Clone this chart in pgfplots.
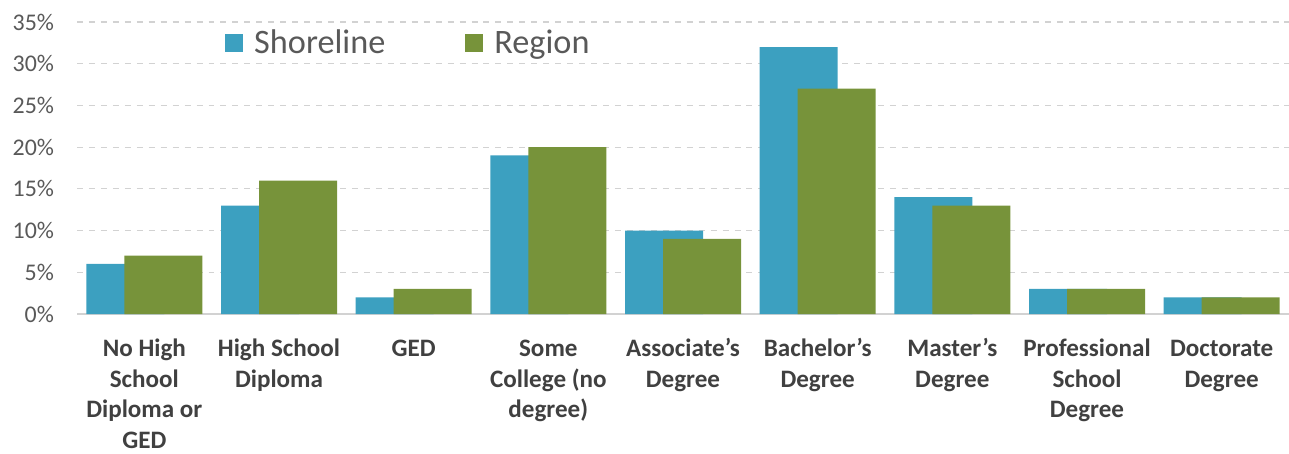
\documentclass[border=0pt]{standalone}
\usepackage{pgfplots}
\pgfplotsset{compat=1.18}
\usepackage{fontspec}
\setmainfont{Carlito}
\definecolor{teal1}{RGB}{60,160,192}
\definecolor{green1}{RGB}{119,147,58}
\definecolor{ticktxt}{RGB}{89,89,89}
\definecolor{cattxt}{RGB}{64,64,64}
\begin{document}
\begin{tikzpicture}
\begin{axis}[
  scale only axis,
  width=606bp, height=146bp,
  xmin=-0.5, xmax=8.5,
  ymin=0, ymax=35,
  xtick=data,
  xticklabels={{\strut No High\\School\\Diploma or\\GED},{\strut High School\\Diploma},{\strut GED},{\strut Some\\College (no\\degree)},{\strut Associate's\\Degree},{\strut Bachelor's\\Degree},{\strut Master's\\Degree},{\strut Professional\\School\\Degree},{\strut Doctorate\\Degree}},
  xticklabel style={align=center, anchor=north, font=\fontsize{12.6}{15.5}\selectfont\bfseries, text=cattxt, yshift=-2.5bp},
  ytick={5,10,...,35},
  extra y ticks={0},
  extra y tick style={grid style={solid, color=gray!35, line width=0.8pt}},
  yticklabel={\pgfmathprintnumber{\tick}\%},
  yticklabel style={font=\fontsize{12}{14}\selectfont, text=ticktxt, xshift=-8bp},
  /pgf/number format/assume math mode=true,
  ymajorgrids,
  grid style={dashed, color=gray!35, line width=0.6pt},
  axis line style={draw=none},
  major tick style={draw=none},
  tick style={draw=none},
  ybar,
  bar width=39bp,
  legend style={draw=none, fill=none, at={(0.122,0.928)}, anchor=west, font=\fontsize{17.2}{20}\selectfont, text=ticktxt, legend columns=2, inner sep=0pt, /tikz/every odd column/.append style={column sep=3.5bp}, /tikz/every even column/.append style={column sep=38bp}},
  legend image code/.code={\fill[#1] (0bp,-4.5bp) rectangle (9bp,4.5bp);},
  clip=false,
]
\addplot[fill=teal1, draw=none, bar shift=-9.5bp] coordinates {(0,6) (1,13) (2,2) (3,19) (4,10) (5,32) (6,14) (7,3) (8,2)};
\addlegendentry{Shoreline}
\addplot[fill=green1, draw=none, bar shift=9.5bp] coordinates {(0,7) (1,16) (2,3) (3,20) (4,9) (5,27) (6,13) (7,3) (8,2)};
\addlegendentry{Region}
\end{axis}
\pgfresetboundingbox
\path[use as bounding box] ([shift={(-38.5bp,-70bp)}]current axis.south west) rectangle ([shift={(0bp,11bp)}]current axis.north east);
\end{tikzpicture}
\end{document}
